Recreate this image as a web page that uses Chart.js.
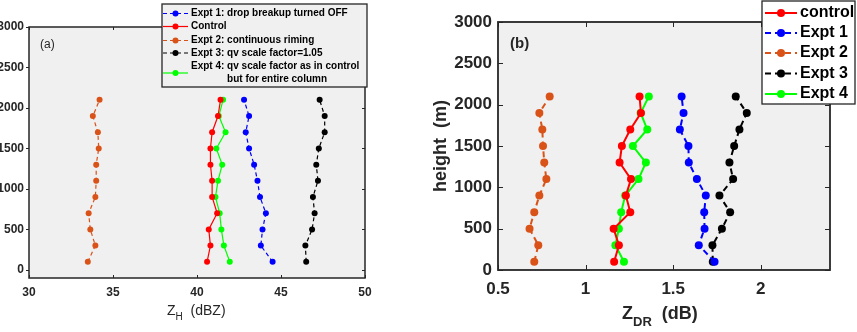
<!DOCTYPE html>
<html>
<head>
<meta charset="utf-8">
<script src="https://cdn.jsdelivr.net/npm/chart.js@4"></script>
<style>
  body { margin: 0; background: #fff; width: 857px; height: 332px; overflow: hidden; position: relative; font-family: Arial, "Liberation Sans", sans-serif; }
  canvas { position: absolute; top: 0; }
  #chartA { left: 0; }
  #chartB { left: 420px; }
  .lbl { position: absolute; color: #262626; white-space: pre; line-height: 1; }
  .lbl sub { line-height: 0; }
</style>
</head>
<body>
<canvas id="chartA" width="420" height="332"></canvas>
<canvas id="chartB" width="437" height="332"></canvas>
<div class="lbl" style="left:40px;top:38px;font-size:12px;">(a)</div>
<div class="lbl" style="left:510px;top:35px;font-size:15px;font-weight:bold;">(b)</div>
<div class="lbl" style="left:167px;top:303px;font-size:14px;">Z<sub style="font-size:10px;vertical-align:-5px;">H</sub>  (dBZ)</div>
<div class="lbl" style="left:622px;top:304px;font-size:18px;font-weight:bold;">Z<sub style="font-size:13px;vertical-align:-7px;">DR</sub>  (dB)</div>
<div class="lbl" style="left:440px;top:146px;font-size:18px;font-weight:bold;transform:translate(-50%,-50%) rotate(-90deg);">height  (m)</div>
<script>
// heights of the model levels (m)
const heights = [100, 300, 500, 700, 900, 1100, 1300, 1500, 1700, 1900, 2100];

// panel (a): Z_H (dBZ)
const zhExpt1   = [44.5, 43.8, 43.9, 44.1, 43.75, 43.6, 43.4, 43.1, 42.9, 43.1, 42.8];
const zhControl = [40.6, 40.8, 40.7, 41.2, 40.9, 40.9, 40.8, 40.8, 40.9, 41.25, 41.4];
const zhExpt2   = [33.5, 33.95, 33.65, 33.55, 33.95, 34.0, 34.0, 34.15, 34.1, 33.8, 34.2];
const zhExpt3   = [46.5, 46.45, 46.85, 47.0, 46.9, 47.2, 47.1, 47.25, 47.6, 47.6, 47.3];
const zhExpt4   = [41.95, 41.6, 41.45, 41.35, 41.1, 41.25, 41.5, 41.15, 41.7, 41.3, 41.55];

// panel (b): Z_DR (dB)
const zdrControl = [1.163, 1.19, 1.16, 1.255, 1.23, 1.259, 1.194, 1.207, 1.255, 1.316, 1.308];
const zdrExpt1   = [1.736, 1.646, 1.679, 1.677, 1.686, 1.635, 1.589, 1.587, 1.538, 1.559, 1.548];
const zdrExpt2   = [0.707, 0.73, 0.68, 0.707, 0.736, 0.776, 0.764, 0.757, 0.753, 0.736, 0.795];
const zdrExpt3   = [1.726, 1.724, 1.778, 1.825, 1.764, 1.842, 1.821, 1.848, 1.878, 1.92, 1.857];
const zdrExpt4   = [1.219, 1.17, 1.19, 1.203, 1.226, 1.302, 1.344, 1.27, 1.352, 1.314, 1.361];

const legendA = ['Expt 1: drop breakup turned OFF', 'Control', 'Expt 2: continuous riming',
                 'Expt 3: qv scale factor=1.05', 'Expt 4: qv scale factor as in control\nbut for entire column'];
const legendB = ['control', 'Expt 1', 'Expt 2', 'Expt 3', 'Expt 4'];

const yTicks = [0, 500, 1000, 1500, 2000, 2500, 3000];
const xTicksA = [30, 35, 40, 45, 50];
const xTicksB = [0.5, 1, 1.5, 2];

const RED = '#ff0000', BLUE = '#0000ff', ORANGE = '#d95319', BLACK = '#000000', GREEN = '#00ff00';

function series(xs, label, color, dashed, lw, r) {
    return {
        label: label,
        data: xs.map((v, i) => ({ x: v, y: heights[i] })),
        showLine: true,
        borderColor: color,
        backgroundColor: color,
        borderWidth: lw,
        borderDash: dashed ? (lw > 1.5 ? [6, 4] : [4, 3]) : [],
        pointRadius: r,
        pointHoverRadius: r,
        pointStyle: 'circle',
        pointBorderWidth: 0
    };
}

// grey plot background
const plotBg = {
    id: 'plotBg',
    beforeDatasetsDraw(chart) {
        const a = chart.chartArea, ctx = chart.ctx;
        ctx.save();
        ctx.fillStyle = '#f0f0f0';
        ctx.fillRect(a.left, a.top, a.right - a.left, a.bottom - a.top);
        ctx.restore();
    }
};

// axes box with matlab-like tick marks
const axesBox = {
    id: 'axesBox',
    afterDatasetsDraw(chart, args, o) {
        const a = chart.chartArea, ctx = chart.ctx;
        const xs = chart.scales.x, ys = chart.scales.y;
        ctx.save();
        ctx.strokeStyle = '#262626';
        ctx.lineWidth = o.lw;
        ctx.strokeRect(a.left, a.top, a.right - a.left, a.bottom - a.top);
        ctx.lineWidth = 1;
        ctx.beginPath();
        xs.ticks.forEach(t => {
            const px = Math.round(xs.getPixelForValue(t.value)) + 0.5;
            ctx.moveTo(px, a.bottom); ctx.lineTo(px, a.bottom - o.len);
            ctx.moveTo(px, a.top); ctx.lineTo(px, a.top + o.len);
        });
        ys.ticks.forEach(t => {
            const py = Math.round(ys.getPixelForValue(t.value)) + 0.5;
            ctx.moveTo(a.left, py); ctx.lineTo(a.left + (o.leftOut ? -o.len : o.len), py);
            ctx.moveTo(a.right, py); ctx.lineTo(a.right - o.len, py);
        });
        ctx.stroke();
        ctx.restore();
    }
};

// boxed legend placed like the original figure
const boxLegend = {
    id: 'boxLegend',
    afterDraw(chart, args, o) {
        const ctx = chart.ctx;
        ctx.save();
        ctx.fillStyle = o.bg;
        ctx.fillRect(o.x, o.y, o.w, o.h);
        ctx.strokeStyle = '#262626';
        ctx.lineWidth = 1.3;
        ctx.strokeRect(o.x, o.y, o.w, o.h);
        ctx.font = o.font;
        ctx.textBaseline = 'middle';
        o.labels.forEach((label, i) => {
            const ds = chart.data.datasets[i];
            const lines = label.split('\n');
            const cy = o.y + o.rows[i];
            const sy = cy + (lines.length > 1 ? o.rowGap / 2 : 0);
            ctx.strokeStyle = ds.borderColor;
            ctx.lineWidth = ds.borderWidth;
            ctx.setLineDash(ds.borderDash);
            ctx.beginPath();
            ctx.moveTo(o.x + o.l0, sy); ctx.lineTo(o.x + o.l1, sy);
            ctx.stroke();
            ctx.setLineDash([]);
            ctx.fillStyle = ds.borderColor;
            ctx.beginPath();
            ctx.arc(o.x + (o.l0 + o.l1) / 2, sy, ds.pointRadius, 0, Math.PI * 2);
            ctx.fill();
            ctx.fillStyle = '#000';
            ctx.fillText(lines[0], o.x + o.tx, cy);
            if (lines.length > 1) {
                const indent = ctx.measureText(lines[0].split(':')[0] + ': ').width;
                ctx.fillText(lines[1], o.x + o.tx + indent, cy + o.rowGap);
            }
        });
        ctx.restore();
    }
};

function makeChart(id, datasets, opt) {
    return new Chart(document.getElementById(id), {
        type: 'scatter',
        data: { datasets: datasets },
        plugins: [plotBg, axesBox, boxLegend],
        options: {
            responsive: false,
            animation: false,
            events: [],
            layout: { padding: { top: opt.top, right: opt.right, left: 0, bottom: 0 } },
            plugins: {
                legend: { display: false },
                tooltip: { enabled: false },
                axesBox: opt.box,
                boxLegend: opt.legend
            },
            scales: {
                x: {
                    type: 'linear', min: opt.xMin, max: opt.xMax,
                    afterBuildTicks: s => { s.ticks = opt.xTicks.map(v => ({ value: v })); },
                    afterFit: s => { s.height = opt.xH; },
                    grid: { display: false, drawTicks: false },
                    border: { display: false },
                    ticks: { padding: opt.xPad, color: '#262626', font: opt.tickFont, maxRotation: 0,
                             callback: v => String(v) }
                },
                y: {
                    type: 'linear', min: opt.yMin, max: 3000,
                    afterBuildTicks: s => { s.ticks = yTicks.map(v => ({ value: v })); },
                    afterFit: s => { s.width = opt.yW; },
                    grid: { display: false, drawTicks: false },
                    border: { display: false },
                    ticks: { padding: opt.yPad, color: '#262626', font: opt.tickFont,
                             callback: v => String(v) }
                }
            }
        }
    });
}

makeChart('chartA', [
    series(zhExpt1, 'Expt 1', BLUE, true, 1.2, 3),
    series(zhControl, 'Control', RED, false, 1.2, 3),
    series(zhExpt2, 'Expt 2', ORANGE, true, 1.2, 3),
    series(zhExpt3, 'Expt 3', BLACK, true, 1.2, 3),
    series(zhExpt4, 'Expt 4', GREEN, false, 1.2, 3)
], {
    top: 27, right: 55, xH: 54, yW: 29, xPad: 7, yPad: 5,
    xMin: 30, xMax: 50, yMin: -100, xTicks: xTicksA,
    tickFont: { family: 'Arial, "Liberation Sans", sans-serif', size: 12, weight: 'bold' },
    box: { lw: 1.5, len: 3, leftOut: true },
    legend: {
        x: 162, y: 4, w: 205, h: 83, bg: '#f0f0f0',
        font: 'bold 10px Arial, "Liberation Sans", sans-serif',
        labels: legendA, rows: [9.5, 22.5, 36.5, 49, 62.5], rowGap: 13,
        l0: 1, l1: 26, tx: 29
    }
});

makeChart('chartB', [
    series(zdrControl, 'control', RED, false, 2, 4),
    series(zdrExpt1, 'Expt 1', BLUE, true, 2, 4),
    series(zdrExpt2, 'Expt 2', ORANGE, true, 2, 4),
    series(zdrExpt3, 'Expt 3', BLACK, true, 2, 4),
    series(zdrExpt4, 'Expt 4', GREEN, false, 2, 4)
], {
    top: 22, right: 27, xH: 62, yW: 78, xPad: 9, yPad: 6,
    xMin: 0.5, xMax: 2.395, yMin: 0, xTicks: xTicksB,
    tickFont: { family: 'Arial, "Liberation Sans", sans-serif', size: 17, weight: 'bold' },
    box: { lw: 1.8, len: 5, leftOut: false },
    legend: {
        x: 342, y: 1, w: 93, h: 103, bg: '#ffffff',
        font: 'bold 16px Arial, "Liberation Sans", sans-serif',
        labels: legendB, rows: [12, 32, 52, 72.5, 93], rowGap: 0,
        l0: 3, l1: 35, tx: 38
    }
});
</script>
</body>
</html>
